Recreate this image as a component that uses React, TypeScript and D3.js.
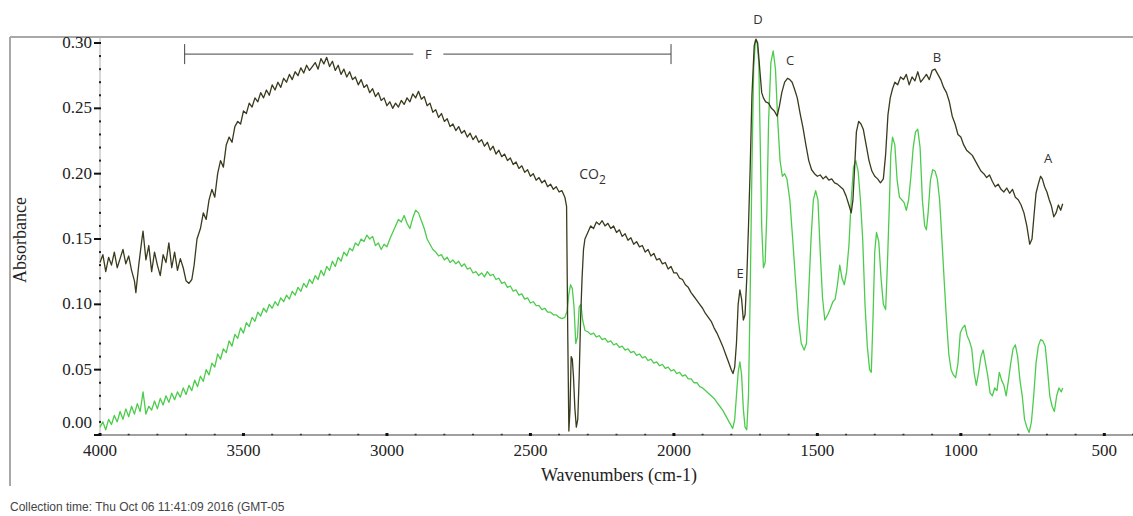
import React from "react";
import * as d3 from "d3";

// [wavenumber (cm-1), absorbance]
const darkSpectrum: [number, number][] = [
  [4000,0.132],[3990,0.138],[3980,0.125],[3970,0.136],[3960,0.130],[3950,0.140],[3940,0.128],[3930,0.135],[3920,0.142],[3910,0.131],
  [3900,0.137],[3890,0.126],[3880,0.118],[3875,0.109],[3865,0.130],[3855,0.148],[3850,0.156],[3840,0.134],[3830,0.145],[3820,0.125],
  [3810,0.140],[3800,0.130],[3790,0.122],[3780,0.138],[3770,0.132],[3760,0.147],[3750,0.128],[3740,0.140],[3730,0.126],[3720,0.135],
  [3710,0.128],[3700,0.118],[3690,0.116],[3680,0.119],[3672,0.130],[3662,0.150],[3650,0.158],[3640,0.170],[3630,0.165],[3620,0.180],
  [3610,0.188],[3600,0.182],[3590,0.200],[3580,0.210],[3570,0.205],[3560,0.222],[3550,0.228],[3540,0.224],[3530,0.236],[3520,0.240],
  [3510,0.238],[3500,0.248],[3490,0.246],[3480,0.254],[3470,0.251],[3460,0.258],[3450,0.255],[3440,0.262],[3430,0.258],[3420,0.264],
  [3410,0.260],[3400,0.268],[3390,0.264],[3380,0.270],[3370,0.266],[3360,0.273],[3350,0.270],[3340,0.276],[3330,0.272],[3320,0.278],
  [3310,0.275],[3300,0.281],[3290,0.277],[3280,0.283],[3270,0.279],[3260,0.282],[3250,0.285],[3240,0.280],[3230,0.288],[3220,0.284],
  [3210,0.289],[3200,0.282],[3190,0.286],[3180,0.279],[3170,0.283],[3160,0.276],[3150,0.280],[3140,0.274],[3130,0.278],[3120,0.272],
  [3110,0.274],[3100,0.268],[3090,0.272],[3080,0.266],[3070,0.268],[3060,0.262],[3050,0.265],[3040,0.259],[3030,0.262],[3020,0.256],
  [3010,0.258],[3000,0.252],[2990,0.255],[2980,0.250],[2970,0.254],[2960,0.251],[2950,0.256],[2940,0.253],[2930,0.258],[2920,0.255],
  [2910,0.261],[2900,0.258],[2890,0.263],[2880,0.257],[2870,0.259],[2860,0.252],[2850,0.254],[2840,0.247],[2830,0.249],[2820,0.243],
  [2810,0.246],[2800,0.240],[2790,0.242],[2780,0.236],[2770,0.238],[2760,0.233],[2750,0.236],[2740,0.231],[2730,0.233],[2720,0.228],
  [2710,0.231],[2700,0.226],[2690,0.229],[2680,0.224],[2670,0.226],[2660,0.221],[2650,0.224],[2640,0.218],[2630,0.221],[2620,0.215],
  [2610,0.218],[2600,0.213],[2590,0.215],[2580,0.210],[2570,0.212],[2560,0.207],[2550,0.209],[2540,0.204],[2530,0.206],[2520,0.201],
  [2510,0.203],[2500,0.198],[2490,0.200],[2480,0.195],[2470,0.197],[2460,0.193],[2450,0.195],[2440,0.190],[2430,0.192],[2420,0.188],
  [2410,0.190],[2400,0.186],[2390,0.187],[2380,0.182],[2374,0.175],[2370,0.080],[2366,0.003],[2362,0.020],[2358,0.060],[2354,0.058],
  [2350,0.045],[2345,0.020],[2340,0.006],[2335,0.012],[2330,0.045],[2325,0.090],[2320,0.120],[2315,0.142],[2310,0.150],[2300,0.155],
  [2290,0.160],[2280,0.158],[2270,0.163],[2260,0.161],[2250,0.164],[2240,0.160],[2230,0.162],[2220,0.158],[2210,0.160],[2200,0.155],
  [2190,0.157],[2180,0.152],[2170,0.154],[2160,0.149],[2150,0.151],[2140,0.146],[2130,0.148],[2120,0.144],[2110,0.145],[2100,0.140],
  [2090,0.142],[2080,0.137],[2070,0.139],[2060,0.134],[2050,0.135],[2040,0.131],[2030,0.132],[2020,0.127],[2010,0.129],[2000,0.124],
  [1990,0.124],[1980,0.120],[1970,0.119],[1960,0.115],[1950,0.113],[1940,0.109],[1930,0.106],[1920,0.103],[1910,0.100],[1900,0.097],
  [1890,0.093],[1880,0.090],[1870,0.087],[1860,0.082],[1850,0.078],[1840,0.073],[1830,0.068],[1820,0.062],[1810,0.056],[1800,0.050],
  [1794,0.047],[1788,0.052],[1782,0.070],[1776,0.100],[1770,0.111],[1764,0.104],[1758,0.088],[1752,0.092],[1746,0.120],[1740,0.160],
  [1734,0.205],[1728,0.260],[1720,0.298],[1714,0.303],[1708,0.300],[1700,0.278],[1694,0.262],[1688,0.258],[1680,0.255],[1670,0.254],
  [1660,0.250],[1650,0.248],[1640,0.244],[1632,0.252],[1624,0.262],[1614,0.270],[1604,0.273],[1596,0.272],[1588,0.270],[1580,0.265],
  [1570,0.258],[1560,0.246],[1550,0.235],[1540,0.222],[1530,0.210],[1520,0.203],[1510,0.200],[1500,0.198],[1490,0.199],[1480,0.196],
  [1470,0.198],[1460,0.195],[1450,0.196],[1440,0.193],[1430,0.192],[1420,0.190],[1410,0.188],[1400,0.183],[1390,0.176],[1382,0.170],
  [1376,0.180],[1370,0.205],[1364,0.232],[1356,0.240],[1348,0.238],[1340,0.234],[1330,0.222],[1320,0.210],[1310,0.202],[1300,0.198],
  [1290,0.196],[1280,0.193],[1270,0.196],[1262,0.215],[1254,0.245],[1246,0.258],[1238,0.265],[1230,0.270],[1220,0.268],[1210,0.274],
  [1200,0.272],[1190,0.276],[1180,0.268],[1170,0.274],[1160,0.271],[1150,0.278],[1140,0.270],[1130,0.273],[1120,0.276],[1110,0.272],
  [1100,0.279],[1090,0.280],[1080,0.276],[1070,0.272],[1060,0.266],[1050,0.262],[1040,0.255],[1030,0.244],[1020,0.238],[1010,0.230],
  [1000,0.228],[990,0.222],[980,0.218],[970,0.216],[960,0.214],[950,0.210],[940,0.206],[930,0.202],[920,0.200],[910,0.197],
  [900,0.199],[890,0.194],[880,0.190],[870,0.192],[860,0.188],[850,0.186],[840,0.189],[830,0.185],[820,0.188],[810,0.182],
  [800,0.180],[790,0.176],[780,0.170],[770,0.160],[760,0.146],[752,0.150],[745,0.168],[738,0.185],[730,0.192],[722,0.198],
  [716,0.196],[708,0.190],[700,0.186],[692,0.180],[684,0.175],[676,0.167],[668,0.170],[660,0.176],[652,0.172],[645,0.177],
];

const greenSpectrum: [number, number][] = [
  [4000,0.006],[3990,0.010],[3980,0.004],[3970,0.012],[3960,0.008],[3950,0.015],[3940,0.010],[3930,0.018],[3920,0.012],[3910,0.020],
  [3900,0.014],[3890,0.022],[3880,0.016],[3870,0.024],[3860,0.018],[3850,0.033],[3840,0.016],[3830,0.022],[3820,0.019],[3810,0.026],
  [3800,0.020],[3790,0.028],[3780,0.023],[3770,0.030],[3760,0.025],[3750,0.032],[3740,0.027],[3730,0.033],[3720,0.029],[3710,0.036],
  [3700,0.031],[3690,0.038],[3680,0.034],[3670,0.042],[3660,0.037],[3650,0.045],[3640,0.041],[3630,0.050],[3620,0.046],[3610,0.055],
  [3600,0.052],[3590,0.062],[3580,0.058],[3570,0.066],[3560,0.063],[3550,0.072],[3540,0.068],[3530,0.077],[3520,0.074],[3510,0.082],
  [3500,0.078],[3490,0.086],[3480,0.083],[3470,0.090],[3460,0.087],[3450,0.094],[3440,0.091],[3430,0.097],[3420,0.094],[3410,0.100],
  [3400,0.097],[3390,0.102],[3380,0.099],[3370,0.105],[3360,0.102],[3350,0.107],[3340,0.104],[3330,0.110],[3320,0.107],[3310,0.113],
  [3300,0.110],[3290,0.116],[3280,0.113],[3270,0.119],[3260,0.116],[3250,0.122],[3240,0.119],[3230,0.126],[3220,0.122],[3210,0.129],
  [3200,0.126],[3190,0.133],[3180,0.129],[3170,0.136],[3160,0.133],[3150,0.140],[3140,0.137],[3130,0.143],[3120,0.141],[3110,0.147],
  [3100,0.145],[3090,0.150],[3080,0.148],[3070,0.153],[3060,0.150],[3050,0.152],[3040,0.145],[3030,0.147],[3020,0.142],[3010,0.146],
  [3000,0.144],[2990,0.150],[2980,0.155],[2970,0.160],[2960,0.165],[2950,0.163],[2940,0.168],[2930,0.162],[2920,0.158],[2910,0.166],
  [2900,0.172],[2890,0.170],[2880,0.164],[2870,0.158],[2860,0.150],[2850,0.146],[2840,0.142],[2830,0.140],[2820,0.137],[2810,0.138],
  [2800,0.134],[2790,0.136],[2780,0.132],[2770,0.134],[2760,0.131],[2750,0.133],[2740,0.129],[2730,0.131],[2720,0.127],[2710,0.128],
  [2700,0.124],[2690,0.125],[2680,0.122],[2670,0.124],[2660,0.121],[2650,0.125],[2640,0.122],[2630,0.123],[2620,0.119],[2610,0.120],
  [2600,0.116],[2590,0.117],[2580,0.113],[2570,0.114],[2560,0.110],[2550,0.111],[2540,0.107],[2530,0.108],[2520,0.104],[2510,0.105],
  [2500,0.101],[2490,0.102],[2480,0.099],[2470,0.099],[2460,0.096],[2450,0.097],[2440,0.094],[2430,0.094],[2420,0.092],[2410,0.092],
  [2400,0.090],[2390,0.089],[2380,0.090],[2372,0.095],[2366,0.108],[2360,0.115],[2354,0.112],[2348,0.098],[2342,0.070],[2336,0.075],
  [2330,0.098],[2324,0.100],[2318,0.088],[2310,0.080],[2300,0.079],[2290,0.077],[2280,0.078],[2270,0.075],[2260,0.076],[2250,0.073],
  [2240,0.074],[2230,0.071],[2220,0.072],[2210,0.069],[2200,0.070],[2190,0.067],[2180,0.068],[2170,0.065],[2160,0.066],[2150,0.063],
  [2140,0.064],[2130,0.061],[2120,0.062],[2110,0.059],[2100,0.060],[2090,0.057],[2080,0.058],[2070,0.055],[2060,0.056],[2050,0.053],
  [2040,0.054],[2030,0.051],[2020,0.052],[2010,0.049],[2000,0.050],[1990,0.047],[1980,0.048],[1970,0.045],[1960,0.046],[1950,0.043],
  [1940,0.043],[1930,0.040],[1920,0.040],[1910,0.037],[1900,0.036],[1890,0.034],[1880,0.032],[1870,0.030],[1860,0.028],[1850,0.025],
  [1840,0.022],[1830,0.019],[1820,0.015],[1810,0.011],[1800,0.007],[1795,0.005],[1788,0.012],[1782,0.030],[1776,0.048],[1770,0.056],
  [1764,0.046],[1758,0.020],[1752,0.006],[1746,0.004],[1740,0.030],[1734,0.110],[1728,0.205],[1722,0.280],[1716,0.302],[1710,0.300],
  [1704,0.285],[1700,0.235],[1694,0.160],[1688,0.128],[1682,0.132],[1676,0.170],[1670,0.240],[1662,0.285],[1654,0.294],[1646,0.280],
  [1638,0.240],[1630,0.210],[1622,0.198],[1614,0.200],[1606,0.196],[1596,0.180],[1586,0.150],[1576,0.118],[1566,0.088],[1556,0.070],
  [1546,0.065],[1538,0.070],[1530,0.110],[1522,0.150],[1514,0.180],[1506,0.187],[1498,0.180],[1490,0.140],[1482,0.105],[1474,0.088],
  [1464,0.092],[1456,0.096],[1446,0.102],[1438,0.104],[1430,0.115],[1422,0.130],[1414,0.120],[1406,0.115],[1398,0.125],[1390,0.145],
  [1382,0.180],[1374,0.205],[1366,0.210],[1358,0.202],[1350,0.180],[1342,0.150],[1334,0.100],[1326,0.068],[1318,0.050],[1312,0.048],
  [1306,0.090],[1300,0.140],[1294,0.155],[1286,0.148],[1278,0.120],[1270,0.100],[1262,0.096],[1256,0.130],[1250,0.170],[1244,0.215],
  [1238,0.228],[1230,0.222],[1222,0.195],[1214,0.182],[1206,0.180],[1198,0.178],[1190,0.172],[1182,0.180],[1174,0.198],[1166,0.220],
  [1158,0.232],[1150,0.234],[1142,0.220],[1134,0.180],[1126,0.160],[1120,0.157],[1114,0.170],[1106,0.195],[1098,0.203],[1090,0.202],
  [1082,0.196],[1074,0.180],[1066,0.150],[1058,0.118],[1050,0.088],[1042,0.062],[1034,0.050],[1026,0.046],[1018,0.044],[1010,0.055],
  [1002,0.078],[994,0.082],[986,0.084],[978,0.076],[970,0.072],[962,0.066],[954,0.048],[946,0.038],[938,0.048],[930,0.060],
  [922,0.065],[914,0.055],[906,0.045],[898,0.032],[890,0.030],[882,0.036],[874,0.034],[866,0.048],[858,0.042],[850,0.038],
  [842,0.030],[834,0.042],[826,0.055],[818,0.066],[810,0.069],[802,0.060],[794,0.042],[786,0.030],[778,0.012],[770,0.006],
  [762,0.002],[754,0.010],[746,0.030],[738,0.055],[730,0.068],[722,0.073],[714,0.072],[706,0.068],[698,0.050],[690,0.030],
  [682,0.022],[674,0.018],[666,0.030],[658,0.036],[650,0.033],[645,0.036],
];

const xMajorTicks = [4000, 3500, 3000, 2500, 2000, 1500, 1000, 500];
const yMajorTicks = [0, 0.05, 0.1, 0.15, 0.2, 0.25, 0.3];

// annotation labels anchored in data coordinates
const peakLabels = [
  { text: "D", wn: 1707, abs: 0.318 },
  { text: "C", wn: 1595, abs: 0.287 },
  { text: "B", wn: 1083, abs: 0.289 },
  { text: "A", wn: 696, abs: 0.212 },
  { text: "E", wn: 1769, abs: 0.124 },
];
const bracketF = { text: "F", from: 3705, to: 2010, abs: 0.2915 };
const co2Label = { wn: 2330, abs: 0.200 };

const xTitle = "Wavenumbers (cm-1)";
const yTitle = "Absorbance";
const footer = "Collection time: Thu Oct 06 11:41:09 2016 (GMT-05";

export default function App() {
  const W = 1133, H = 516;
  const x = d3.scaleLinear().domain([4000, 400]).range([100, 1133]);
  const y = d3.scaleLinear().domain([0, 0.3]).range([435, 43]);
  const line = d3.line<[number, number]>().x(d => x(d[0])).y(d => y(d[1]));

  const xMinor = d3.range(4000, 399, -100).filter(v => !xMajorTicks.includes(v));
  const yMinor = d3.range(1, 31).map(i => i / 100).filter(v => !yMajorTicks.some(t => Math.abs(t - v) < 1e-9));

  const serif = "'Liberation Serif', 'Times New Roman', serif";
  const sans = "'Liberation Sans', Arial, sans-serif";
  const anno = "'Open Sans', 'Noto Sans', sans-serif";

  const fx1 = x(bracketF.from), fx2 = x(bracketF.to), fy = y(bracketF.abs);
  const fmid = (fx1 + fx2) / 2 + 0.5;

  return (
    <svg width={W} height={H} style={{ position: "absolute", left: 0, top: 0, background: "#fff" }}>
      {/* outer frame */}
      <line x1={10} y1={37} x2={W} y2={37} stroke="#a8a8a8" strokeWidth={2} />
      <line x1={10} y1={37} x2={10} y2={486} stroke="#a8a8a8" strokeWidth={2} />

      {/* axes */}
      <line x1={x(4000)} y1={435} x2={W} y2={435} stroke="#a0a0a0" strokeWidth={2} />
      <line x1={x(4000)} y1={37} x2={x(4000)} y2={435} stroke="#b0b0b0" strokeWidth={1} />

      {xMinor.map(v => (
        <line key={"xm" + v} x1={x(v) - 1} x2={x(v) + 1} y1={434.5} y2={434.5} stroke="#333" strokeWidth={1.5} />
      ))}
      {xMajorTicks.map(v => (
        <g key={"xt" + v}>
          <rect x={x(v) - 1.5} y={433} width={3} height={3} fill="#111" />
          <text x={x(v)} y={456} textAnchor="middle" fontFamily={serif} fontSize={17} fill="#222">{v}</text>
        </g>
      ))}
      {yMinor.map(v => (
        <rect key={"ym" + v} x={x(4000) - 1} y={y(v) - 1} width={2} height={2} fill="#222" />
      ))}
      {yMajorTicks.map(v => (
        <g key={"yt" + v}>
          <line x1={x(4000) - 6} x2={x(4000) + 1} y1={y(v)} y2={y(v)} stroke="#111" strokeWidth={2} />
          <text x={92} y={y(v) + (v === 0 ? -7 : 5)} textAnchor="end" fontFamily={serif} fontSize={17} fill="#222">{v.toFixed(2)}</text>
        </g>
      ))}

      {/* spectra */}
      <path d={line(greenSpectrum) || ""} fill="none" stroke="#4ccc4c" strokeWidth={1.3} strokeLinejoin="round" />
      <path d={line(darkSpectrum) || ""} fill="none" stroke="#3a3a1c" strokeWidth={1.3} strokeLinejoin="round" />

      {/* bracket F */}
      <line x1={fx1} x2={fmid - 15} y1={fy} y2={fy} stroke="#444" strokeWidth={1} />
      <line x1={fmid + 15} x2={fx2} y1={fy} y2={fy} stroke="#444" strokeWidth={1} />
      <line x1={fx1} x2={fx1} y1={fy - 10} y2={fy + 10} stroke="#444" strokeWidth={1} />
      <line x1={fx2} x2={fx2} y1={fy - 10} y2={fy + 10} stroke="#444" strokeWidth={1} />
      <text x={fmid} y={fy + 5} textAnchor="middle" fontFamily={anno} fontSize={13} fill="#333">{bracketF.text}</text>

      {peakLabels.map(p => (
        <text key={p.text} x={x(p.wn)} y={y(p.abs) + 5} textAnchor="middle" fontFamily={anno} fontSize={13} fill="#333">{p.text}</text>
      ))}
      <text x={x(co2Label.wn)} y={y(co2Label.abs) + 5} fontFamily={anno} fontSize={14} fill="#333">
        CO<tspan dy={5} fontSize={12}>2</tspan>
      </text>

      {/* titles */}
      <text x={619} y={481} textAnchor="middle" fontFamily={serif} fontSize={18} fill="#222">{xTitle}</text>
      <text transform="translate(26,240) rotate(-90)" textAnchor="middle" fontFamily={serif} fontSize={18} fill="#222">{yTitle}</text>
      <text x={10} y={511} fontFamily={sans} fontSize={12} fill="#444">{footer}</text>
    </svg>
  );
}
